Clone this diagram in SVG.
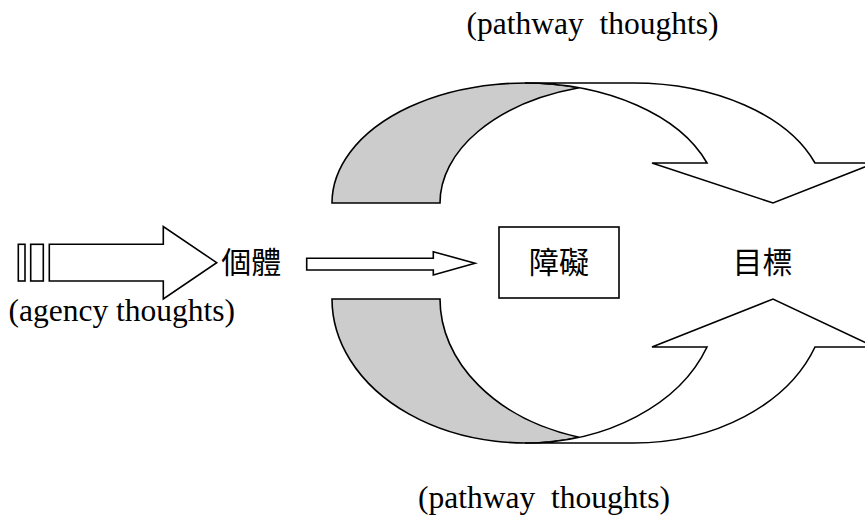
<svg xmlns="http://www.w3.org/2000/svg" width="865" height="522" viewBox="0 0 865 522">
  <style>
    .ln { stroke: #000; stroke-width: 1.6; stroke-linejoin: miter; }
    .gray { fill: #cccccc; }
    .white { fill: #ffffff; }
    .cjk { font-family: "Noto Sans CJK TC", "Noto Sans CJK SC", sans-serif; font-size: 30px; fill: #000; text-anchor: middle; }
    .en { font-family: "Liberation Serif", "Times New Roman", serif; font-size: 31.5px; fill: #000; white-space: pre; }
  </style>
  <rect width="865" height="522" fill="#ffffff"/>

  <g id="connectors">
    <g id="agency-arrow">
      <rect class="ln white" x="18.3" y="244.3" width="6.7" height="36.7"/>
      <rect class="ln white" x="30.7" y="244.3" width="12.6" height="36.7"/>
      <path class="ln white" d="M49.3,244.3 L163.3,244.3 L163.3,226.5 L216.7,262.7 L163.3,299 L163.3,281 L49.3,281 Z"/>
    </g>
    <path id="mid-arrow" class="ln white" d="M306.7,258.3 L433.3,258.3 L433.3,251.7 L475,263.3 L433.3,275 L433.3,270 L306.7,270 Z"/>

    <g id="top-pathway">
      <path class="ln gray" d="M332,203 A193,120 0 0 1 579,87.8 A193,120 0 0 0 440,203 Z"/>
      <path class="ln white" d="M525,83 L633,83 A193,120 0 0 1 815,163 L875,163 L773,203 L652,163 L707,163 A193,120 0 0 0 525,83 Z"/>
    </g>
    <g id="bottom-pathway">
      <path class="ln gray" d="M332,299 A193,144 0 0 0 579,437.2 A193,144 0 0 1 440,299 Z"/>
      <path class="ln white" d="M525,443 L633,443 A193,144 0 0 0 815,347 L875,347 L773,299 L652,347 L707,347 A193,144 0 0 1 525,443 Z"/>
    </g>
  </g>

  <g id="node-individual">
    <text class="cjk" x="251.2" y="273">個體</text>
  </g>
  <g id="node-obstacle">
    <rect class="ln white" x="499" y="227" width="120" height="71"/>
    <text class="cjk" x="559" y="273">障礙</text>
  </g>
  <g id="node-goal">
    <text class="cjk" x="762.5" y="273">目標</text>
  </g>

  <g id="labels">
    <text class="en" x="466.5" y="34">(pathway  thoughts)</text>
    <text class="en" x="418" y="508">(pathway  thoughts)</text>
    <text class="en" x="8.5" y="321">(agency thoughts)</text>
  </g>
</svg>
